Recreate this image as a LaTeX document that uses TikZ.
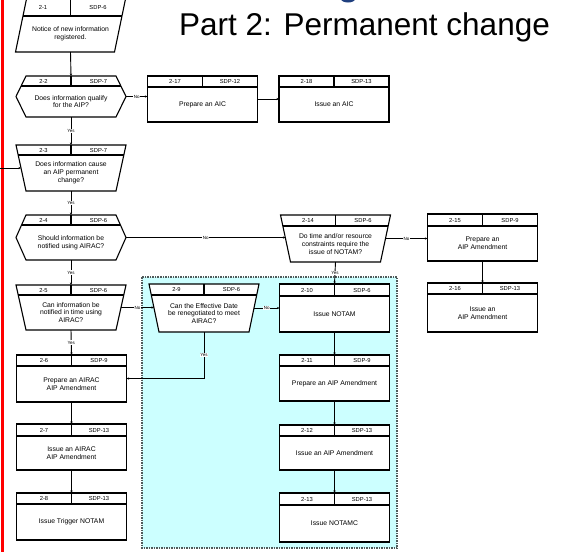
\documentclass[tikz,border=0pt]{standalone}
\usepackage{fontspec}
\setmainfont{Liberation Sans}
\usetikzlibrary{calc,arrows.meta}

\definecolor{zoneFill}{RGB}{204,255,255}
\definecolor{zoneEdge}{RGB}{80,90,90}
\definecolor{titleBlue}{RGB}{31,63,127}

\tikzset{
  stepline/.style={line width=1.1pt, draw=black, fill=white, line join=miter},
  stepframe/.style={draw=none, inner sep=0pt, outer sep=0pt, shape=rectangle},
  steptext/.style={font=\fontsize{6.8}{7.8}\selectfont, align=center, inner sep=0pt},
  stepref/.style={font=\fontsize{5.8}{6.5}\selectfont, inner sep=0pt},
  flow/.style={line width=0.9pt, -{Stealth[length=2.6pt,width=2.2pt]}},
  answer/.style={font=\fontsize{4.5}{5}\selectfont, fill=white, inner sep=0.6pt},
}

% header cells, divider and body text shared by every step
% #1 name, #2 centre x, #3 top, #4 header bottom, #5 bottom, #6 number, #7 SDP, #8 text
\newcommand\stepparts[8]{%
  \draw[line width=1.1pt] (#2,#3) -- (#2,#4);
  \node[stepref] (#1-num) at ({#2-27.5},{(#3+#4)/2}) {#6};
  \node[stepref] (#1-sdp) at ({#2+27.5},{(#3+#4)/2}) {#7};
  \node[steptext] (#1-txt) at (#2,{(#4+#5)/2}) {#8};
}

% process box
\newcommand\rectstep[8]{%
  \pgfmathsetmacro\fsH{#5-#3}
  \node[stepframe, stepline, draw, minimum width=110pt, minimum height=\fsH pt] (#1) at (#2,{(#3+#5)/2}) {};
  \draw[line width=1.1pt] ({#2-55},#4) -- ({#2+55},#4);
  \stepparts{#1}{#2}{#3}{#4}{#5}{#6}{#7}{#8}}

% manual operation (wide top, narrow bottom)
\newcommand\trapstep[8]{%
  \pgfmathsetmacro\fsH{#5-#3}
  \pgfmathsetmacro\fsW{55-10*(#4-#3)/(#5-#3)}
  \node[stepframe, minimum width=100pt, minimum height=\fsH pt] (#1) at (#2,{(#3+#5)/2}) {};
  \filldraw[stepline] ({#2-55},#3) -- ({#2+55},#3) -- ({#2+45},#5) -- ({#2-45},#5) -- cycle;
  \draw[line width=1.1pt] ({#2-\fsW},#4) -- ({#2+\fsW},#4);
  \stepparts{#1}{#2}{#3}{#4}{#5}{#6}{#7}{#8}}

% preparation (pointed left and right)
\newcommand\hexstep[8]{%
  \pgfmathsetmacro\fsH{#5-#3}
  \pgfmathsetmacro\fsM{(#3+#5)/2}
  \pgfmathsetmacro\fsW{45+10*(#4-#3)/(\fsM-#3)}
  \node[stepframe, minimum width=110pt, minimum height=\fsH pt] (#1) at (#2,\fsM) {};
  \filldraw[stepline] ({#2-45},#3) -- ({#2+45},#3) -- ({#2+55},\fsM) -- ({#2+45},#5) -- ({#2-45},#5) -- ({#2-55},\fsM) -- cycle;
  \draw[line width=1.1pt] ({#2-\fsW},#4) -- ({#2+\fsW},#4);
  \stepparts{#1}{#2}{#3}{#4}{#5}{#6}{#7}{#8}}

% data input (slanted)
\newcommand\parastep[8]{%
  \pgfmathsetmacro\fsH{#5-#3}
  \pgfmathsetmacro\fsL{#2-55+11*(#5-#4)/(#5-#3)}
  \node[stepframe, minimum width=100pt, minimum height=\fsH pt] (#1) at (#2,{(#3+#5)/2}) {};
  \filldraw[stepline] ({#2-44},#3) -- ({#2+55},#3) -- ({#2+44},#5) -- ({#2-55},#5) -- cycle;
  \draw[line width=1.1pt] (\fsL,#4) -- ({\fsL+99},#4);
  \stepparts{#1}{#2}{#3}{#4}{#5}{#6}{#7}{#8}}

\begin{document}
\begin{tikzpicture}[x=1pt,y=-1pt]
\useasboundingbox (0,0) rectangle (577,552);
\fill[white] (0,0) rectangle (577,552);

% title
\fill[titleBlue] (348,-1) ellipse (7 and 3.5);
\node[anchor=base west, font=\fontsize{31.5}{36}\selectfont, inner sep=0pt] (title) at (179,35) {Part 2: Permanent change};

% page margin rule
\draw[red, line width=2.4pt] (2.5,0) -- (2.5,552);

% NOTAM zone
\filldraw[fill=zoneFill, draw=zoneEdge, line width=1.2pt, dash pattern=on 1.5pt off 1pt] (142,277) rectangle (397,548);

% left column
\parastep{s1}{70.5}{-1}{16}{52}{2-1}{SDP-6}{Notice of new information\\registered.}
\hexstep{s2}{71}{76}{86}{117}{2-2}{SDP-7}{Does information qualify\\for the AIP?}
\trapstep{s3}{71}{145}{155}{191}{2-3}{SDP-7}{Does information cause\\an AIP permanent\\change?}
\hexstep{s4}{71}{215}{225}{260}{2-4}{SDP-6}{Should information be\\notified using AIRAC?}
\trapstep{s5}{71}{285}{295}{330}{2-5}{SDP-6}{Can information be\\notified in time using\\AIRAC?}
\rectstep{s6}{71.5}{355}{366}{402}{2-6}{SDP-9}{Prepare an AIRAC\\AIP Amendment}
\rectstep{s7}{71.5}{424}{436}{470}{2-7}{SDP-13}{Issue an AIRAC\\AIP Amendment}
\rectstep{s8}{71.5}{493}{504}{540}{2-8}{SDP-13}{Issue Trigger NOTAM}

% AIC branch
\rectstep{s17}{202.5}{76}{87}{122}{2-17}{SDP-12}{Prepare an AIC}
\rectstep{s18}{334}{76}{87}{122}{2-18}{SDP-13}{Issue an AIC}

% NOTAM branch
\trapstep{s9}{204}{284}{295}{332}{2-9}{SDP-6}{Can the Effective Date\\be renegotiated to meet\\AIRAC?}
\trapstep{s14}{335.5}{215}{226}{262}{2-14}{SDP-6}{Do time and/or resource\\constraints require the\\issue of NOTAM?}
\rectstep{s10}{334.5}{284}{296}{332}{2-10}{SDP-6}{Issue NOTAM}
\rectstep{s11}{334.5}{355}{366}{401}{2-11}{SDP-9}{Prepare an AIP Amendment}
\rectstep{s12}{334.5}{425}{436}{470}{2-12}{SDP-13}{Issue an AIP Amendment}
\rectstep{s13}{334.5}{493}{505}{542}{2-13}{SDP-13}{Issue NOTAMC}

% non-AIRAC amendment
\rectstep{s15}{482.5}{214}{226}{261}{2-15}{SDP-9}{Prepare an\\AIP Amendment}
\rectstep{s16}{482.5}{283}{294}{332}{2-16}{SDP-13}{Issue an\\AIP Amendment}

% connectors
\coordinate (fromPart1) at (0,168);
\draw[flow] (fromPart1) -- (s3.west);
\draw[flow] (s1.south) -- (s2.north);
\draw[flow] (s2.east) -- (s2.east -| s17.west) node[answer, midway] {No};
\draw[flow] (s17.east) -- (s17.east -| s18.west);
\draw[flow] (s2.south) -- (s3.north) node[answer, midway] {Yes};
\draw[flow] (s3.south) -- (s4.north) node[answer, midway] {Yes};
\draw[flow] (s4.east) -- (s4.east -| s14.west) node[answer, midway] {No};
\draw[flow] (s14.east) -- (s14.east -| s15.west) node[answer, midway] {No};
\draw[flow] (s15.south) -- (s16.north);
\draw[flow] (s14.south) -- (s10.north) node[answer, midway] {Yes};
\draw[flow] (s4.south) -- (s5.north) node[answer, midway] {Yes};
\draw[flow] (s5.east) -- (s5.east -| s9.west) node[answer, midway] {No};
\draw[flow] (s9.east) -- (s9.east -| s10.west) node[answer, midway] {No};
\draw[flow] (s9.south) |- (s6.east) node[answer, pos=0.25] {Yes};
\draw[flow] (s5.south) -- (s6.north) node[answer, midway] {Yes};
\draw[flow] (s6.south) -- (s7.north);
\draw[flow] (s7.south) -- (s8.north);
\draw[flow] (s10.south) -- (s11.north);
\draw[flow] (s11.south) -- (s12.north);
\draw[flow] (s12.south) -- (s13.north);
\end{tikzpicture}
\end{document}
